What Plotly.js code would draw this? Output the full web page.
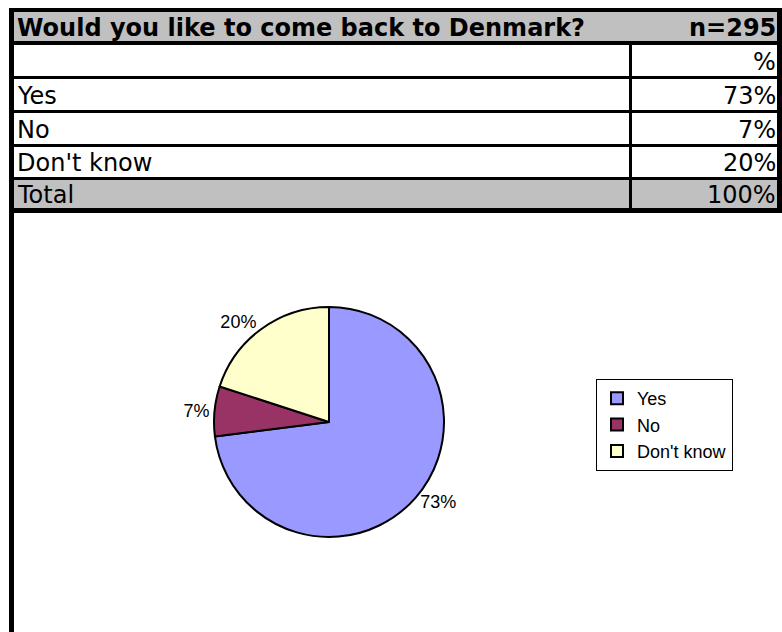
<!DOCTYPE html>
<html>
<head>
<meta charset="utf-8">
<script src="https://cdn.plot.ly/plotly-3.0.1.min.js"></script>
<style>
html,body{margin:0;padding:0;background:#fff;}
#chart{width:782px;height:632px;}
</style>
</head>
<body>
<div id="chart"></div>
<script>
// ---- data ----
const questionTitle = "Would you like to come back to Denmark?";
const sampleLabel = "n=295";
const categories = ["Yes", "No", "Don't know"];
const percents = [73, 7, 20];
const unitHeader = "%";
const totalLabel = "Total";
const totalValue = 100;
const sliceColors = ["#9999FF", "#993366", "#FFFFCC"];

// ---- pixel helpers (layout only) ----
const W = 782, H = 632;
const px = x => x / W;
const py = y => 1 - y / H;

function rect(x0, y0, x1, y1, color) {
  return {type: "rect", xref: "paper", yref: "paper",
          x0: px(x0), x1: px(x1), y0: py(y1), y1: py(y0),
          fillcolor: color, line: {width: 0}, layer: "below"};
}

const shapes = [];
// backgrounds
shapes.push(rect(14, 12, 777, 41, "#C0C0C0"));
shapes.push(rect(14, 180, 777, 208, "#C0C0C0"));
// borders
shapes.push(rect(9, 8, 782, 12, "#000"));      // top
shapes.push(rect(9, 8, 14, 632, "#000"));      // left
shapes.push(rect(777, 8, 782, 213, "#000"));   // right
const hLines = [[41, 45], [76, 79], [110, 113], [144, 147], [177, 180], [208, 213]];
hLines.forEach(([a, b]) => shapes.push(rect(9, a, 782, b, "#000")));
shapes.push(rect(629, 45, 632, 208, "#000"));  // column divider

// table rows built from data
const rowLabels = [""].concat(categories, [totalLabel]);
const rowValues = [unitHeader].concat(percents.map(v => v + "%"), [totalValue + "%"]);
const rowCenters = [62, 96, 130, 163, 195];

const tableFont = {family: "Verdana, 'DejaVu Sans', sans-serif", size: 24, color: "#000"};
const annotations = [];
annotations.push({xref: "paper", yref: "paper", x: px(15), y: py(28), xanchor: "left", yanchor: "middle",
  text: "<b>" + questionTitle + "</b>", showarrow: false, font: tableFont});
annotations.push({xref: "paper", yref: "paper", x: px(778), y: py(28), xanchor: "right", yanchor: "middle",
  text: "<b>" + sampleLabel + "</b>", showarrow: false, font: tableFont});
rowLabels.forEach((lab, i) => {
  if (lab) annotations.push({xref: "paper", yref: "paper", x: px(15), y: py(rowCenters[i]),
    xanchor: "left", yanchor: "middle", text: lab, showarrow: false, font: tableFont});
  annotations.push({xref: "paper", yref: "paper", x: px(778), y: py(rowCenters[i]),
    xanchor: "right", yanchor: "middle", text: rowValues[i], showarrow: false, font: tableFont});
});

const trace = {
  type: "pie",
  labels: categories,
  values: percents,
  sort: false,
  direction: "clockwise",
  rotation: 0,
  marker: {colors: sliceColors, line: {color: "#000", width: 2}},
  textinfo: "percent",
  textposition: "outside",
  outsidetextfont: {family: "Arial, 'Liberation Sans', sans-serif", size: 18, color: "#000"},
  domain: {x: [px(214), px(444)], y: [py(537), py(307)]},
  hoverinfo: "none",
  automargin: false
};

const layout = {
  width: W, height: H,
  margin: {l: 0, r: 0, t: 0, b: 0},
  paper_bgcolor: "#fff",
  plot_bgcolor: "#fff",
  showlegend: true,
  legend: {
    x: px(596), y: py(379), xanchor: "left", yanchor: "top",
    bgcolor: "#fff", bordercolor: "#000", borderwidth: 1,
    font: {family: "Arial, 'Liberation Sans', sans-serif", size: 18, color: "#000"},
    itemwidth: 30, tracegroupgap: 0
  },
  shapes: shapes,
  annotations: annotations
};

Plotly.newPlot("chart", [trace], layout, {staticPlot: true, displayModeBar: false});
</script>
</body>
</html>
